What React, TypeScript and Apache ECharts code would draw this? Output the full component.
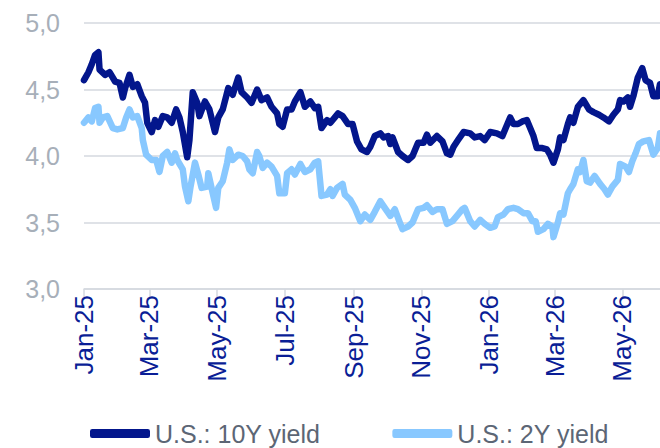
import React, { useEffect, useRef } from "react";
import * as echarts from "echarts";

const tickDates = [
  "2025-01-01", "2025-03-01", "2025-05-01", "2025-07-01", "2025-09-01",
  "2025-11-01", "2026-01-01", "2026-03-01", "2026-05-01",
];
const tickLabels = ["Jan-25", "Mar-25", "May-25", "Jul-25", "Sep-25", "Nov-25", "Jan-26", "Mar-26", "May-26"];
const yTicks = [3.0, 3.5, 4.0, 4.5, 5.0];

const dates10 = [
  "2025-01-01", "2025-01-05", "2025-01-08", "2025-01-11", "2025-01-14", "2025-01-15", "2025-01-20", "2025-01-24",
  "2025-01-29", "2025-02-02", "2025-02-05", "2025-02-07", "2025-02-11", "2025-02-14", "2025-02-18", "2025-02-22",
  "2025-02-25", "2025-02-27", "2025-03-03", "2025-03-06", "2025-03-09", "2025-03-13", "2025-03-17", "2025-03-21",
  "2025-03-25", "2025-03-28", "2025-03-31", "2025-04-04", "2025-04-06", "2025-04-09", "2025-04-13", "2025-04-15",
  "2025-04-20", "2025-04-24", "2025-04-29", "2025-05-02", "2025-05-06", "2025-05-11", "2025-05-15", "2025-05-20",
  "2025-05-23", "2025-05-28", "2025-06-01", "2025-06-06", "2025-06-10", "2025-06-15", "2025-06-19", "2025-06-24",
  "2025-06-26", "2025-06-29", "2025-07-03", "2025-07-07", "2025-07-10", "2025-07-15", "2025-07-19", "2025-07-24",
  "2025-07-28", "2025-07-31", "2025-08-03", "2025-08-08", "2025-08-11", "2025-08-18", "2025-08-22", "2025-08-27",
  "2025-08-31", "2025-09-04", "2025-09-08", "2025-09-13", "2025-09-16", "2025-09-20", "2025-09-25", "2025-09-28",
  "2025-10-02", "2025-10-04", "2025-10-06", "2025-10-11", "2025-10-15", "2025-10-20", "2025-10-24", "2025-10-29",
  "2025-11-03", "2025-11-06", "2025-11-09", "2025-11-15", "2025-11-20", "2025-11-24", "2025-11-27", "2025-11-30",
  "2025-12-04", "2025-12-09", "2025-12-15", "2025-12-19", "2025-12-24", "2025-12-28", "2026-01-02", "2026-01-08",
  "2026-01-13", "2026-01-16", "2026-01-20", "2026-01-23", "2026-01-27", "2026-01-31", "2026-02-04", "2026-02-07",
  "2026-02-10", "2026-02-13", "2026-02-18", "2026-02-22", "2026-02-25", "2026-02-28", "2026-03-04", "2026-03-06",
  "2026-03-09", "2026-03-13", "2026-03-15", "2026-03-18", "2026-03-22", "2026-03-24", "2026-03-27", "2026-04-01",
  "2026-04-05", "2026-04-10", "2026-04-14", "2026-04-19", "2026-04-23", "2026-04-27", "2026-04-29", "2026-05-02",
  "2026-05-06", "2026-05-08", "2026-05-11", "2026-05-15", "2026-05-19", "2026-05-22", "2026-05-26", "2026-05-29",
  "2026-06-02", "2026-06-04",
];
const yield10 = [
  4.57, 4.63, 4.69, 4.76, 4.78, 4.65, 4.61, 4.63,
  4.56, 4.55, 4.44, 4.51, 4.61, 4.52, 4.54, 4.45,
  4.40, 4.25, 4.18, 4.27, 4.22, 4.30, 4.29, 4.25,
  4.35, 4.29, 4.18, 3.99, 4.12, 4.48, 4.40, 4.30,
  4.41, 4.35, 4.18, 4.29, 4.35, 4.51, 4.46, 4.59,
  4.48, 4.44, 4.40, 4.50, 4.42, 4.44, 4.37, 4.32,
  4.24, 4.22, 4.35, 4.35, 4.41, 4.48, 4.37, 4.41,
  4.36, 4.37, 4.21, 4.27, 4.25, 4.32, 4.30, 4.24,
  4.24, 4.11, 4.05, 4.03, 4.07, 4.15, 4.17, 4.14,
  4.15, 4.09, 4.14, 4.03, 4.00, 3.97, 4.00, 4.10,
  4.10, 4.16, 4.10, 4.15, 4.11, 4.02, 4.01, 4.07,
  4.12, 4.18, 4.17, 4.14, 4.15, 4.12, 4.18, 4.17,
  4.15, 4.21, 4.29, 4.24, 4.24, 4.26, 4.27, 4.21,
  4.15, 4.06, 4.06, 4.05, 4.01, 3.95, 4.05, 4.14,
  4.12, 4.24, 4.29, 4.25, 4.37, 4.39, 4.42, 4.35,
  4.33, 4.31, 4.29, 4.26, 4.31, 4.35, 4.42, 4.41,
  4.44, 4.37, 4.45, 4.59, 4.66, 4.57, 4.55, 4.45,
  4.45, 4.54,
];

const dates2 = [
  "2025-01-01", "2025-01-05", "2025-01-08", "2025-01-11", "2025-01-14", "2025-01-15", "2025-01-18", "2025-01-22",
  "2025-01-27", "2025-01-31", "2025-02-05", "2025-02-08", "2025-02-11", "2025-02-14", "2025-02-18", "2025-02-22",
  "2025-02-23", "2025-02-26", "2025-03-03", "2025-03-07", "2025-03-10", "2025-03-13", "2025-03-17", "2025-03-21",
  "2025-03-24", "2025-03-26", "2025-03-31", "2025-04-02", "2025-04-05", "2025-04-07", "2025-04-11", "2025-04-14",
  "2025-04-17", "2025-04-22", "2025-04-23", "2025-04-27", "2025-04-30", "2025-05-02", "2025-05-06", "2025-05-10",
  "2025-05-12", "2025-05-15", "2025-05-20", "2025-05-24", "2025-05-28", "2025-05-30", "2025-06-02", "2025-06-06",
  "2025-06-08", "2025-06-11", "2025-06-15", "2025-06-19", "2025-06-24", "2025-06-26", "2025-07-01", "2025-07-03",
  "2025-07-07", "2025-07-10", "2025-07-15", "2025-07-19", "2025-07-24", "2025-07-28", "2025-07-31", "2025-08-03",
  "2025-08-08", "2025-08-11", "2025-08-13", "2025-08-17", "2025-08-22", "2025-08-24", "2025-08-29", "2025-09-02",
  "2025-09-07", "2025-09-11", "2025-09-16", "2025-09-20", "2025-09-25", "2025-09-29", "2025-10-04", "2025-10-08",
  "2025-10-13", "2025-10-15", "2025-10-20", "2025-10-24", "2025-10-29", "2025-11-03", "2025-11-06", "2025-11-11",
  "2025-11-15", "2025-11-20", "2025-11-24", "2025-11-29", "2025-12-03", "2025-12-08", "2025-12-10", "2025-12-15",
  "2025-12-19", "2025-12-24", "2025-12-28", "2026-01-02", "2026-01-06", "2026-01-09", "2026-01-14", "2026-01-18",
  "2026-01-23", "2026-01-27", "2026-02-01", "2026-02-05", "2026-02-09", "2026-02-12", "2026-02-14", "2026-02-19",
  "2026-02-23", "2026-02-27", "2026-02-28", "2026-03-04", "2026-03-06", "2026-03-09", "2026-03-13", "2026-03-15",
  "2026-03-18", "2026-03-22", "2026-03-24", "2026-03-27", "2026-03-30", "2026-04-02", "2026-04-06", "2026-04-11",
  "2026-04-15", "2026-04-18", "2026-04-22", "2026-04-27", "2026-04-29", "2026-05-04", "2026-05-07", "2026-05-10",
  "2026-05-13", "2026-05-16", "2026-05-20", "2026-05-25", "2026-05-29", "2026-06-02", "2026-06-04",
];
const yield2 = [
  4.25, 4.29, 4.26, 4.36, 4.37, 4.25, 4.29, 4.30,
  4.21, 4.20, 4.21, 4.29, 4.35, 4.29, 4.30, 4.21,
  4.12, 4.01, 3.97, 3.97, 3.88, 4.00, 4.03, 3.95,
  4.02, 3.97, 3.90, 3.77, 3.66, 3.77, 3.95, 3.86,
  3.76, 3.77, 3.87, 3.72, 3.61, 3.76, 3.81, 3.95,
  4.05, 3.97, 4.01, 4.00, 3.96, 3.90, 3.87, 4.03,
  4.00, 3.91, 3.95, 3.92, 3.85, 3.72, 3.72, 3.87,
  3.90, 3.86, 3.94, 3.88, 3.90, 3.95, 3.96, 3.70,
  3.71, 3.75, 3.70, 3.76, 3.79, 3.71, 3.67, 3.61,
  3.51, 3.56, 3.52, 3.58, 3.66, 3.61, 3.55, 3.60,
  3.49, 3.45, 3.47, 3.50, 3.60, 3.61, 3.63, 3.58,
  3.60, 3.60, 3.49, 3.51, 3.55, 3.60, 3.61, 3.51,
  3.47, 3.52, 3.49, 3.46, 3.47, 3.54, 3.56, 3.60,
  3.61, 3.60, 3.57, 3.57, 3.51, 3.51, 3.43, 3.45,
  3.49, 3.47, 3.39, 3.50, 3.57, 3.56, 3.72, 3.75,
  3.79, 3.90, 3.88, 3.97, 3.81, 3.80, 3.85, 3.79,
  3.75, 3.71, 3.77, 3.82, 3.94, 3.92, 3.88, 3.96,
  4.02, 4.09, 4.11, 4.12, 4.01, 4.06, 4.17,
];

const xMin = "2025-01-01";
const xMax = "2026-06-04";

const C10 = "#03168C";
const C2 = "#88C8FF";

const ts = (d: string) => new Date(d + "T00:00:00Z").getTime();

export default function App() {
  const ref = useRef<HTMLDivElement>(null);
  useEffect(() => {
    if (!ref.current) return;
    const chart = echarts.init(ref.current, undefined, { renderer: "svg" });
    const tickTimes = tickDates.map(ts);
    const font = "Liberation Sans, Arial, sans-serif";
    chart.setOption({
      animation: false,
      backgroundColor: "#ffffff",
      grid: { left: 84, right: 0, top: 23, bottom: 159, containLabel: false },
      legend: {
        left: 90,
        top: 421,
        padding: 0,
        itemWidth: 60,
        itemHeight: 9,
        itemGap: 72,
        icon: "roundRect",
        textStyle: { color: "#5C6675", fontSize: 25, fontFamily: font },
        data: ["U.S.: 10Y yield", "U.S.: 2Y yield"],
      },
      xAxis: {
        type: "value",
        min: ts(xMin),
        max: ts(xMax),
        axisLine: { show: true, lineStyle: { color: "#D5D9DF", width: 1.5 } },
        axisTick: { show: true, customValues: tickTimes, length: 8, lineStyle: { color: "#D5D9DF", width: 1.5 } },
        splitLine: { show: false },
        axisLabel: {
          customValues: tickTimes,
          rotate: 90,
          margin: 6,
          color: "#0A1E96",
          fontSize: 26,
          fontFamily: font,
          formatter: (v: number) => {
            let best = 0;
            for (let i = 0; i < tickTimes.length; i++) {
              if (Math.abs(tickTimes[i] - v) < Math.abs(tickTimes[best] - v)) best = i;
            }
            return tickLabels[best];
          },
        },
      },
      yAxis: {
        type: "value",
        min: yTicks[0],
        max: yTicks[yTicks.length - 1],
        interval: 0.5,
        axisLine: { show: false },
        axisTick: { show: false },
        splitLine: { show: true, lineStyle: { color: "#D5D9DF", width: 1.5 } },
        axisLabel: {
          margin: 24,
          color: "#A7AFB9",
          fontSize: 25,
          fontFamily: font,
          formatter: (v: number) => v.toFixed(1).replace(".", ","),
        },
      },
      series: [
        {
          name: "U.S.: 10Y yield",
          type: "line",
          z: 3,
          showSymbol: false,
          symbol: "none",
          color: C10,
          lineStyle: { color: C10, width: 6.5, cap: "round", join: "round" },
          data: dates10.map((d, i) => [ts(d), yield10[i]]),
        },
        {
          name: "U.S.: 2Y yield",
          type: "line",
          z: 2,
          showSymbol: false,
          symbol: "none",
          color: C2,
          lineStyle: { color: C2, width: 6.5, cap: "round", join: "round" },
          data: dates2.map((d, i) => [ts(d), yield2[i]]),
        },
      ],
    });
    return () => chart.dispose();
  }, []);
  return (
    <div
      ref={ref}
      style={{ position: "fixed", left: 0, top: 0, width: 660, height: 448, background: "#fff" }}
    />
  );
}
